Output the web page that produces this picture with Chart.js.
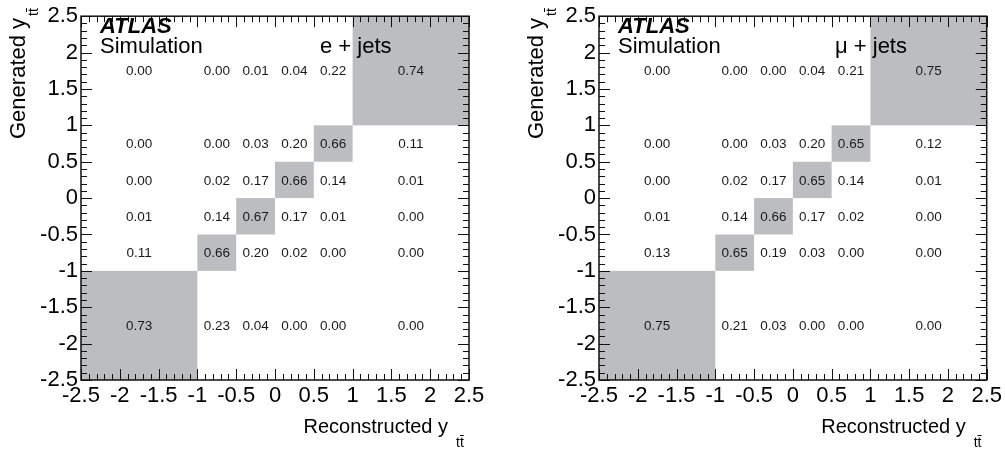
<!DOCTYPE html>
<html>
<head>
<meta charset="utf-8">
<script src="https://cdn.jsdelivr.net/npm/chart.js@4.4.1/dist/chart.umd.min.js"></script>
<style>
  body { margin: 0; background: #fff; }
  #wrap { position: relative; width: 1005px; height: 450px; }
  canvas { position: absolute; top: 0; }
</style>
</head>
<body>
<div id="wrap">
  <canvas id="left" width="500" height="450" style="left:0"></canvas>
  <canvas id="right" width="505" height="450" style="left:500px"></canvas>
</div>
<script>
// bin edges in rapidity (same for reco and gen)
const binEdges = [-2.5, -1, -0.5, 0, 0.5, 1, 2.5];
const tickLabels = ['-2.5', '-2', '-1.5', '-1', '-0.5', '0', '0.5', '1', '1.5', '2', '2.5'];

// migration matrices, rows = generated bin (bottom to top), columns = reconstructed bin
const eJets = [
    [0.73, 0.23, 0.04, 0.00, 0.00, 0.00],
    [0.11, 0.66, 0.20, 0.02, 0.00, 0.00],
    [0.01, 0.14, 0.67, 0.17, 0.01, 0.00],
    [0.00, 0.02, 0.17, 0.66, 0.14, 0.01],
    [0.00, 0.00, 0.03, 0.20, 0.66, 0.11],
    [0.00, 0.00, 0.01, 0.04, 0.22, 0.74]
];
const muJets = [
    [0.75, 0.21, 0.03, 0.00, 0.00, 0.00],
    [0.13, 0.65, 0.19, 0.03, 0.00, 0.00],
    [0.01, 0.14, 0.66, 0.17, 0.02, 0.00],
    [0.00, 0.02, 0.17, 0.65, 0.14, 0.01],
    [0.00, 0.00, 0.03, 0.20, 0.65, 0.12],
    [0.00, 0.00, 0.00, 0.04, 0.21, 0.75]
];

const FONT = "'Liberation Sans', Arial, Helvetica, sans-serif";
Chart.defaults.font.family = FONT;

/**
 * Turns a matrix into cell points with bin edges.
 */
function toCells(matrix) {
    const cells = [];
    matrix.forEach((row, i) => {
        row.forEach((v, j) => {
            cells.push({
                x: (binEdges[j] + binEdges[j + 1]) / 2,
                y: (binEdges[i] + binEdges[i + 1]) / 2,
                x0: binEdges[j], x1: binEdges[j + 1],
                y0: binEdges[i], y1: binEdges[i + 1],
                v: v
            });
        });
    });
    return cells;
}

// draws the grey boxes and the numbers
const cellPlugin = {
    id: 'cells',
    beforeDatasetsDraw(chart) {
        const { ctx, scales: { x, y } } = chart;
        ctx.save();
        ctx.fillStyle = '#bcbdc0';
        chart.data.datasets[0].data.forEach(p => {
            if (p.v < 0.5) return;
            const px0 = x.getPixelForValue(p.x0), px1 = x.getPixelForValue(p.x1);
            const py0 = y.getPixelForValue(p.y0), py1 = y.getPixelForValue(p.y1);
            ctx.fillRect(px0, py1, px1 - px0, py0 - py1);
        });
        ctx.restore();
    },
    afterDatasetsDraw(chart) {
        const { ctx, scales: { x, y } } = chart;
        ctx.save();
        ctx.fillStyle = '#1a1a1a';
        ctx.font = '13.5px ' + FONT;
        ctx.textAlign = 'center';
        ctx.textBaseline = 'middle';
        chart.data.datasets[0].data.forEach(p => {
            ctx.fillText(p.v.toFixed(2), x.getPixelForValue(p.x), y.getPixelForValue(p.y) + 1);
        });
        ctx.restore();
    }
};

function drawTT(ctx, x, y) {
    // "t t-bar" subscript
    ctx.font = '14px ' + FONT;
    ctx.fillText('t', x, y);
    const w = ctx.measureText('t').width;
    ctx.fillText('t', x + w, y);
    ctx.fillRect(x + w, y - 12, w, 1);
}

// ROOT style frame, inner ticks, labels and titles
const framePlugin = {
    id: 'frame',
    afterDraw(chart) {
        const { ctx, chartArea: a, scales: { x, y } } = chart;
        const o = chart.options.plugins.frame;
        ctx.save();
        ctx.strokeStyle = '#111';
        ctx.lineWidth = 1;
        ctx.beginPath();
        for (let k = 0; k <= 50; k++) {
            const val = -2.5 + k * 0.1;
            const len = (k % 5 === 0) ? 11 : 6;
            const px = Math.round(x.getPixelForValue(val)) + 0.5;
            const py = Math.round(y.getPixelForValue(val)) + 0.5;
            ctx.moveTo(px, a.bottom); ctx.lineTo(px, a.bottom - len);
            ctx.moveTo(px, a.top); ctx.lineTo(px, a.top + len);
            ctx.moveTo(a.left, py); ctx.lineTo(a.left + len, py);
            ctx.moveTo(a.right, py); ctx.lineTo(a.right - len, py);
        }
        ctx.stroke();
        ctx.lineWidth = 1.5;
        ctx.strokeRect(a.left, a.top, a.right - a.left, a.bottom - a.top);

        ctx.fillStyle = '#000';
        ctx.textBaseline = 'alphabetic';
        ctx.textAlign = 'left';
        ctx.font = 'italic bold 22px ' + FONT;
        ctx.fillText('ATLAS', a.left + 19, 33);
        ctx.font = '22px ' + FONT;
        ctx.fillText('Simulation', a.left + 19, 53);
        ctx.fillText(o.channel, a.left + o.channelOffset, 53);

        // x title
        ctx.font = '20px ' + FONT;
        const xt = 'Reconstructed y';
        const xw = ctx.measureText(xt).width;
        ctx.fillText(xt, a.right - 21 - xw, 433);
        drawTT(ctx, a.right - 13, 447);

        // y title
        ctx.save();
        ctx.translate(o.yTitleX, 139);
        ctx.rotate(-Math.PI / 2);
        ctx.font = '22px ' + FONT;
        const yt = 'Generated y';
        const yw = ctx.measureText(yt).width;
        ctx.fillText(yt, 0, 0);
        drawTT(ctx, yw + 2, 13);
        ctx.restore();
        ctx.restore();
    }
};

function makeChart(id, matrix, channel, yWidth, padRight, channelOffset, yTitleX) {
    const ctx = document.getElementById(id).getContext('2d');
    return new Chart(ctx, {
        type: 'scatter',
        data: {
            datasets: [{
                data: toCells(matrix),
                pointRadius: 0,
                pointHoverRadius: 0
            }]
        },
        options: {
            responsive: false,
            animation: false,
            events: [],
            layout: { padding: { top: 14, right: padRight, left: 0, bottom: 0 } },
            plugins: {
                legend: { display: false },
                tooltip: { enabled: false },
                frame: { channel: channel, channelOffset: channelOffset, yTitleX: yTitleX }
            },
            scales: {
                x: {
                    type: 'linear',
                    min: -2.5,
                    max: 2.5,
                    grid: { display: false, drawTicks: false },
                    border: { display: false },
                    ticks: {
                        stepSize: 0.5,
                        autoSkip: false,
                        maxRotation: 0,
                        minRotation: 0,
                        padding: 3,
                        color: '#000',
                        font: { size: 22 },
                        callback: (v, i) => tickLabels[i]
                    },
                    afterFit: s => { s.height = 70; }
                },
                y: {
                    type: 'linear',
                    min: -2.5,
                    max: 2.5,
                    grid: { display: false, drawTicks: false },
                    border: { display: false },
                    ticks: {
                        stepSize: 0.5,
                        autoSkip: false,
                        padding: 3,
                        color: '#000',
                        font: { size: 22 },
                        callback: (v, i) => tickLabels[i]
                    },
                    afterFit: s => { s.width = yWidth; }
                }
            }
        },
        plugins: [cellPlugin, framePlugin]
    });
}

makeChart('left', eJets, 'e + jets', 81, 31, 239, 25);
makeChart('right', muJets, '\u03bc + jets', 99, 18, 236, 43);
</script>
</body>
</html>
